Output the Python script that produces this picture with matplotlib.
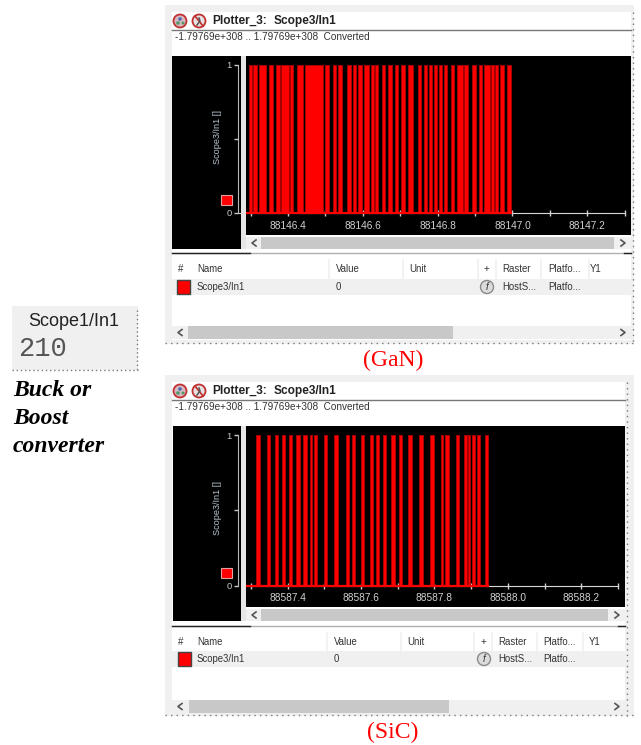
import matplotlib
matplotlib.use('Agg')
import matplotlib.pyplot as plt
from matplotlib.patches import Rectangle, Circle

W, H = 641, 745

# Pulse on/off times (seconds after the base time)
gan_base = 88146
gan_on = [.2958, .3074, .3234, .3483, .3680, .3813, .4054, .4232, .4455, .4999,
          .5195, .5337, .5569, .5729, .5872, .6033, .6211, .6327, .6505, .6674,
          .6852, .7013, .7218, .7467, .7646, .7762, .7904, .8038, .8180, .8350,
          .8519, .8715, .8929, .9098, .9241, .9437, .9535, .9669, .9847]
gan_off = [.3038, .3163, .3412, .3599, .3787, .4018, .4134, .4393, .4927, .5106,
           .5275, .5444, .5676, .5810, .5979, .6157, .6291, .6407, .6603, .6781,
           .6951, .7120, .7352, .7548, .7726, .7851, .7984, .8118, .8261, .8439,
           .8671, .8804, .9018, .9197, .9393, .9508, .9624, .9767, .9972]
gan_ticks = [88146.4, 88146.6, 88146.8, 88147.0, 88147.2]
gan_minor = [88146.3, 88146.5, 88146.7, 88146.9, 88147.1, 88147.3]

sic_base = 88587
sic_on = [.3146, .3437, .3655, .3855, .4036, .4227, .4427, .4599, .4708, .4981,
          .5253, .5589, .5744, .5998, .6243, .6416, .6588, .6806, .7034, .7288,
          .7578, .7878, .8187, .8296, .8587, .8796, .8923, .9014, .9159, .9386]
sic_off = [.3237, .3519, .3737, .3936, .4118, .4345, .4518, .4672, .4790, .5063,
           .5362, .5671, .5826, .6080, .6316, .6498, .6670, .6925, .7115, .7379,
           .7687, .7978, .8242, .8396, .8677, .8877, .8977, .9104, .9241, .9468]
sic_ticks = [88587.4, 88587.6, 88587.8, 88588.0, 88588.2]
sic_minor = [88587.3, 88587.5, 88587.7, 88587.9, 88588.1, 88588.3]

table_cols = ['#', 'Name', 'Value', 'Unit', '+', 'Raster', 'Platfo...', 'Y1']
table_row = ['Scope3/In1', '0', '', 'HostS...', 'Platfo...']
range_text = '-1.79769e+308 .. 1.79769e+308  Converted'

plt.rcParams['font.family'] = ['Liberation Sans', 'DejaVu Sans']
fig = plt.figure(figsize=(W / 100, H / 100), dpi=100, facecolor='white')

# whole-figure axes in pixels, for the window chrome
bg = fig.add_axes([0, 0, 1, 1])
bg.set_xlim(0, W)
bg.set_ylim(H, 0)
bg.axis('off')


def rect(x0, y0, x1, y1, color, z=1, **kw):
    bg.add_patch(Rectangle((x0, y0), x1 - x0, y1 - y0, facecolor=color,
                           edgecolor=kw.pop('edge', 'none'), zorder=z, **kw))


def px_axes(x0, y0, x1, y1):
    return fig.add_axes([x0 / W, 1 - y1 / H, (x1 - x0) / W, (y1 - y0) / H])


def scroll(x0, x1, y0, y1, t0, t1):
    rect(x0, y0, x1, y1, '#f0f0f0', 3)
    rect(t0, y0, t1, y1, '#c8c8c8', 4)
    ym = (y0 + y1) / 2
    bg.plot([x0 + 10, x0 + 6, x0 + 10], [ym - 3, ym, ym + 3], color='#555555', lw=1.2, zorder=5)
    bg.plot([x1 - 10, x1 - 6, x1 - 10], [ym - 3, ym, ym + 3], color='#555555', lw=1.2, zorder=5)


def panel(top, bottom, right, p):
    rect(165, top, 634, bottom, '#f0f0f0', 1)
    rect(172, top + 7, right, bottom - 4, 'white', 2)

    # title bar
    y = p['title_y']
    bg.add_patch(Circle((180, y), 6.5, facecolor='#d8b8c0', edgecolor='#c03030', lw=1.3, zorder=3))
    bg.add_patch(Circle((180, y - 2), 1.8, facecolor='#4a6fb0', edgecolor='none', zorder=4))
    bg.add_patch(Circle((178, y + 2), 1.8, facecolor='#4f9a6a', edgecolor='none', zorder=4))
    bg.add_patch(Circle((183, y + 2), 1.5, facecolor='#4f9a6a', edgecolor='none', zorder=4))
    bg.add_patch(Circle((199, y), 6.5, facecolor='#e6e0e0', edgecolor='#c03030', lw=1.3, zorder=3))
    bg.plot([195, 203], [y - 5, y + 5], color='#c03030', lw=1.2, zorder=4)
    bg.plot([197, 200, 199], [y + 4, y, y - 3], color='#555555', lw=1.1, zorder=4)
    bg.text(212, y, 'Plotter_3:', fontsize=8.6, fontweight='bold', color='#222222', va='center', zorder=5)
    bg.text(274, y, 'Scope3/In1', fontsize=8.6, fontweight='bold', color='#222222', va='center', zorder=5)
    bg.plot([172, right], [y + 9, y + 9], color='#777777', lw=1, zorder=3)
    bg.text(175, y + 16.5, range_text, fontsize=7.2, color='#333333', va='center', zorder=5)

    # black plot areas
    y0, y1, y2 = p['plot_top'], p['plot_bottom'], p['left_bottom']
    rect(p['left_x'], y0, 241, y2, 'black', 3)
    rect(241, y0, 246, y2, '#e6e6e6', 3)
    scroll(246, right, y1 + 2, y2, 261, p['thumb_top'])

    # main plot, limits calibrated on the tick labels
    ax = px_axes(246, y0, right, y1)
    ax.set_facecolor('black')
    ticks = p['ticks']
    per_px = (ticks[1] - ticks[0]) / p['tick_px']
    ax.set_xlim(ticks[0] + (246 - p['tick0_x']) * per_px, ticks[0] + (right - p['tick0_x']) * per_px)
    y_per_px = 1 / (p['y0_px'] - p['y1_px'])
    ylim = (-(y1 - p['y0_px']) * y_per_px, (p['y0_px'] - y0) * y_per_px)
    ax.set_ylim(ylim)
    for s in ['top', 'left', 'right']:
        ax.spines[s].set_visible(False)
    ax.spines['bottom'].set_position(('data', 0))
    ax.spines['bottom'].set_color('#d8d8d8')
    ax.spines['bottom'].set_bounds(p['on'][0] + p['base'] - .03, ticks[-1] + p['axis_end'])
    ax.set_yticks([])
    ax.set_xticks(ticks)
    ax.set_xticklabels(['%.1f' % t for t in ticks])
    ax.set_xticks(p['minor'], minor=True)
    ax.tick_params(axis='x', which='both', colors='#d0d0d0', labelsize=7.3, direction='inout', length=4, width=1, pad=3.5)
    for base_on, base_off in zip(p['on'], p['off']):
        ax.fill_between([p['base'] + base_on, p['base'] + base_off], 0, 1, facecolor='#ff0000',
                        edgecolor='#a80000', lw=0.7, zorder=3)
    ax.plot([p['on'][0] + p['base'] - .03, p['off'][-1] + p['base']], [0, 0], color='#ff0000', lw=1.6, zorder=4)

    # y axis in the left black strip
    ay = px_axes(p['left_x'], y0, 238, y1)
    ay.patch.set_visible(False)
    ay.set_ylim(ylim)
    ay.set_xticks([])
    for s in ['top', 'bottom', 'right']:
        ay.spines[s].set_visible(False)
    ay.spines['left'].set_position(('axes', 1.0))
    ay.spines['left'].set_color('#b8b8b8')
    ay.spines['left'].set_bounds(0, 1)
    ay.set_yticks([0, .5, 1])
    ay.set_yticklabels(['0', '', '1'])
    ay.tick_params(axis='y', colors='#c8c8c8', labelsize=6.8, length=3, width=1, pad=1.5)
    mid = (p['y0_px'] + p['y1_px']) / 2
    bg.text(217, mid - 2, 'Scope3/In1 []', rotation=90, fontsize=6.6, color='#b8c4d0',
            va='center', ha='center', zorder=6)
    rect(221, p['y0_px'] - 18, 232, p['y0_px'] - 8, '#ff0000', 6, edge='#e0a0a0', lw=0.8)

    # splitter and signal table
    ys = p['split_y']
    bg.plot([172, right], [ys, ys], color='#b0b0b0', lw=1, zorder=3)
    bg.plot([172, 250], [ys, ys], color='#222222', lw=1, zorder=4)
    bg.plot([right - 7, right], [ys, ys], color='#222222', lw=1, zorder=4)
    yh, yr = p['head_y'], p['row_y']
    rect(172, yr - 8, right, yr + 8, '#f0f0f0', 3)
    for x, label in zip(p['col_x'], table_cols):
        bg.text(x, yh, label, fontsize=6.9, color='#333333', va='center', zorder=5,
                ha='center' if label in ('#', '+') else 'left')
    for x in p['col_sep']:
        bg.plot([x, x], [yh - 9, yh + 9], color='#f0f0f0', lw=1.2, zorder=3)
    rect(p['swatch'], yr - 7, p['swatch'] + 13, yr + 6.5, '#ff0000', 5, edge='#444444', lw=1)
    xs = [p['col_x'][1], p['col_x'][2], p['col_x'][3], p['col_x'][5], p['col_x'][6]]
    for x, label in zip(xs, table_row):
        bg.text(x, yr, label, fontsize=6.9, color='#333333', va='center', zorder=5)
    bg.add_patch(Circle((p['col_x'][4] + 1, yr), 6.5, facecolor='#dcdcdc', edgecolor='#8a8a8a', lw=1, zorder=5))
    bg.text(p['col_x'][4] + 1, yr, 'f', fontsize=7, style='italic', color='#333333', ha='center', va='center', zorder=6)
    scroll(172, right, p['bar_y'], p['bar_y'] + 13, p['thumb_bot'][0], p['thumb_bot'][1])

    # dotted frame
    bg.plot([165, 634], [bottom - 1, bottom - 1], color='#777777', lw=1, ls=(0, (1, 3)), zorder=6)
    bg.plot([right + 2, right + 2], [top + 7, bottom], color='#777777', lw=1, ls=(0, (1, 3)), zorder=6)


panel(5, 344, 631, dict(
    title_y=21, plot_top=56, plot_bottom=235, left_bottom=249, left_x=172, thumb_top=614,
    base=gan_base, on=gan_on, off=gan_off, ticks=gan_ticks, minor=gan_minor, tick0_x=288, tick_px=74.8,
    y0_px=213, y1_px=65, axis_end=.1, split_y=253, head_y=269, row_y=287, swatch=177, bar_y=326,
    col_x=[181, 197, 336, 409, 486, 502, 548, 590], col_sep=[329, 403, 478, 496, 541, 589],
    thumb_bot=(188, 453)))

panel(375, 716, 625, dict(
    title_y=391, plot_top=426, plot_bottom=607, left_bottom=621, left_x=173, thumb_top=608,
    base=sic_base, on=sic_on, off=sic_off, ticks=sic_ticks, minor=sic_minor, tick0_x=287.7, tick_px=73.4,
    y0_px=585.7, y1_px=435, axis_end=.1, split_y=626, head_y=642, row_y=659, swatch=178, bar_y=700,
    col_x=[181, 197, 334, 407, 483, 498, 543, 589], col_sep=[327, 401, 474, 492, 537, 583],
    thumb_bot=(189, 449)))

# captions
bg.text(393, 360.5, '(GaN)', fontsize=17, family='Liberation Serif', color='#ff0000', ha='center', va='center')
bg.text(393, 732.5, '(SiC)', fontsize=17, family='Liberation Serif', color='#ff0000', ha='center', va='center')

# display block and note on the left
rect(12, 306, 138, 370, '#f0f0f0', 1)
bg.plot([12, 138], [370, 370], color='#777777', lw=1, ls=(0, (1, 2)), zorder=2)
bg.plot([137, 137], [310, 370], color='#777777', lw=1, ls=(0, (1, 2)), zorder=2)
bg.text(74, 322, 'Scope1/In1', fontsize=13, color='#222222', ha='center', va='center', zorder=3)
bg.text(18, 349, '210', fontsize=19.5, family='Liberation Mono', color='#555555', va='center', zorder=3)
for y, line in zip([391, 419, 447], ['Buck or', 'Boost', 'converter']):
    bg.text(13, y, line, fontsize=17, family='Liberation Serif', fontweight='bold', style='italic',
            color='black', va='center')

fig.savefig('out.png', dpi=100)
